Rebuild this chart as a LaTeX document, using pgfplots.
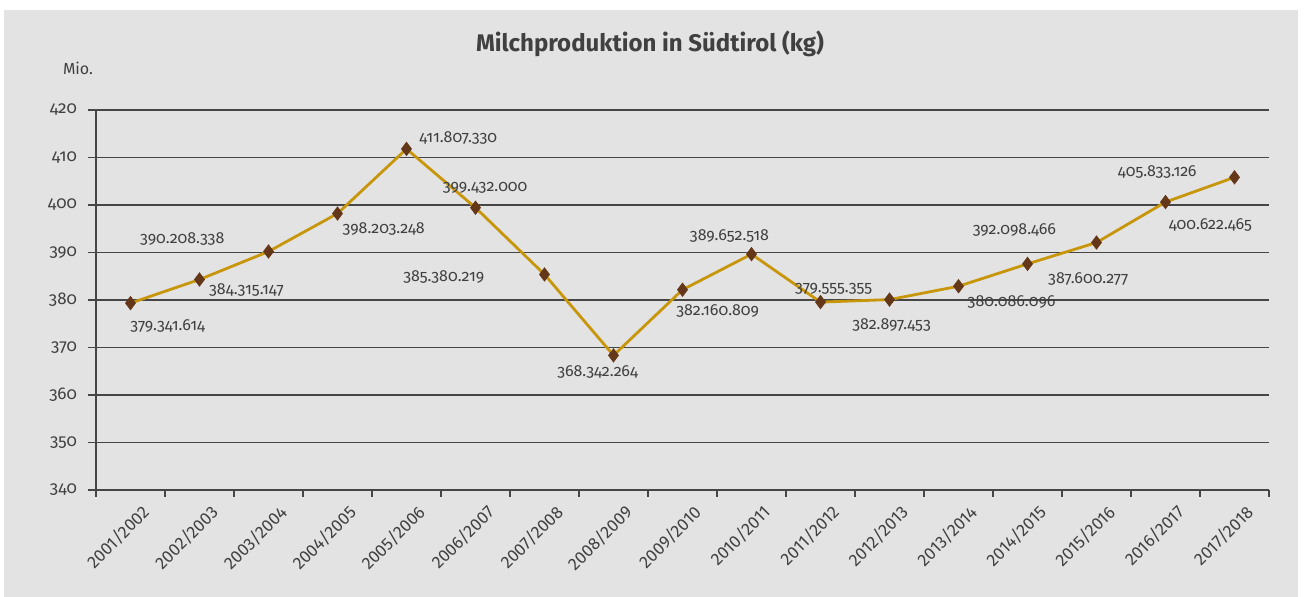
\documentclass[border=0pt]{standalone}
\usepackage{fontspec}
\setmainfont{Fira Sans}[Numbers=OldStyle]
\newfontfamily\liningfont{Fira Sans}[Numbers=Lining]
\usepackage{pgfplots}
\pgfplotsset{compat=1.18}
\definecolor{bggray}{RGB}{227,227,227}
\definecolor{txtgray}{RGB}{64,64,64}
\definecolor{gridgray}{RGB}{70,70,70}
\definecolor{milkgold}{RGB}{200,150,10}
\definecolor{markbrown}{RGB}{100,55,25}

\begin{document}
\begin{tikzpicture}
% background (1pt = 2px of the reference)
\fill[white] (-48pt,-53.5pt) rectangle (604pt,245pt);
\fill[bggray] (-46pt,-53.5pt) rectangle (601pt,240pt);
\node[font=\bfseries\fontsize{12}{14}\selectfont, text=txtgray] at (277pt,223pt) {Milchproduktion in Südtirol (kg)};
\node[font=\fontsize{8}{10}\selectfont, text=txtgray] at (-9pt,211pt) {Mio.};
\begin{axis}[
  scale only axis,
  width=586.5pt, height=190pt,
  xmin=-0.5, xmax=16.5,
  ymin=340, ymax=420,
  ytick={340,350,...,420},
  xtick={0,...,16},
  xticklabels={2001/2002,2002/2003,2003/2004,2004/2005,2005/2006,2006/2007,
    2007/2008,2008/2009,2009/2010,2010/2011,2011/2012,2012/2013,2013/2014,
    2014/2015,2015/2016,2016/2017,2017/2018},
  minor xtick={-0.5,0.5,...,16.5},
  axis lines*=left,
  axis line style={-, draw=gridgray, line width=1.2pt},
  ymajorgrids,
  grid style={draw=gridgray, line width=0.9pt},
  tick align=outside,
  major tick length=4pt,
  minor tick length=3.5pt,
  x tick style={draw=none},
  minor x tick style={draw=gridgray, line width=0.9pt},
  y tick style={draw=gridgray, line width=0.9pt},
  tick label style={text=txtgray},
  yticklabel style={font=\fontsize{8.5}{10}\selectfont, xshift=-2pt},
  xticklabel style={font=\liningfont\fontsize{8.6}{10}\selectfont, rotate=45, anchor=north east, xshift=5pt, yshift=-2pt},
  /pgf/number format/assume math mode=true,
  clip=false,
]
\addplot[milkgold, line width=1.4pt, mark=diamond*, mark size=3.3pt,
  mark options={fill=markbrown, draw=markbrown, line width=0.4pt}]
  coordinates{(0,379.341614)(1,384.315147)(2,390.208338)(3,398.203248)
    (4,411.807330)(5,399.432000)(6,385.380219)(7,368.342264)(8,382.160809)
    (9,389.652518)(10,379.555355)(11,380.086096)(12,382.897453)(13,387.600277)
    (14,392.098466)(15,400.622465)(16,405.833126)};
\begin{scope}[every node/.style={font=\fontsize{8}{10}\selectfont, text=txtgray}]
\node at (axis cs:0.54,374.5) {379.341.614};
\node at (axis cs:1.68,382.1) {384.315.147};
\node at (axis cs:0.75,392.8) {390.208.338};
\node at (axis cs:3.67,395.0) {398.203.248};
\node at (axis cs:4.75,414.1) {411.807.330};
\node at (axis cs:5.14,403.6) {399.432.000};
\node at (axis cs:4.54,384.8) {385.380.219};
\node at (axis cs:6.77,364.8) {368.342.264};
\node at (axis cs:8.51,377.7) {382.160.809};
\node at (axis cs:8.68,393.5) {389.652.518};
\node at (axis cs:10.19,382.3) {379.555.355};
\node at (axis cs:11.03,374.7) {382.897.453};
\node at (axis cs:12.77,379.6) {380.086.096};
\node at (axis cs:12.81,394.7) {392.098.466};
\node at (axis cs:13.88,384.4) {387.600.277};
\node at (axis cs:14.88,407.0) {405.833.126};
\node at (axis cs:15.65,395.8) {400.622.465};
\end{scope}
\end{axis}
\end{tikzpicture}
\end{document}
